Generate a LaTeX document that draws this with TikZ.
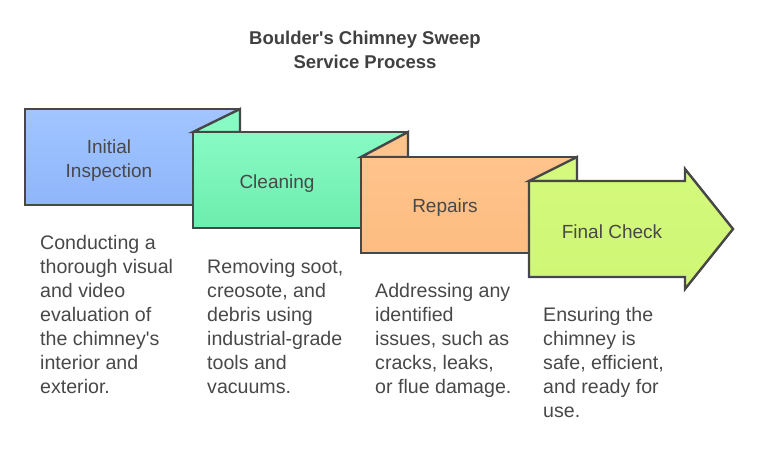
\documentclass[tikz,border=0pt]{standalone}
\usepackage{fontspec}
\setmainfont{Liberation Sans}[Ligatures=TeXOff]
\definecolor{ink}{HTML}{474747}
\definecolor{txt}{HTML}{484848}
\definecolor{blueT}{HTML}{A2C5FF}
\definecolor{blueB}{HTML}{8FB6FB}
\definecolor{greenT}{HTML}{88FAC4}
\definecolor{greenB}{HTML}{6DEDAE}
\definecolor{orangeT}{HTML}{FFC38B}
\definecolor{orangeB}{HTML}{FDBD82}
\definecolor{limeT}{HTML}{D4F97C}
\definecolor{limeB}{HTML}{CFF675}
\tikzset{
  shp/.style={draw=ink, line width=2.4pt, line join=miter},
  lbl/.style={font=\fontsize{19}{24}\selectfont, text=txt, align=center, inner sep=0},
  desc/.style={font=\fontsize{19.6}{24}\selectfont, text=txt, align=left, anchor=base west, inner sep=0},
  ttl/.style={font=\bfseries\fontsize{18.5}{24}\selectfont, text=ink!90!black, align=center, inner sep=0},
}
\begin{document}
\begin{tikzpicture}[x=1pt,y=-1pt]
\useasboundingbox (0,0) rectangle (759,470);
% title
\node[ttl] (title) at (365,50) {Boulder's Chimney Sweep\\Service Process};
% box 1
\shade[shp, top color=blueT, bottom color=blueB] (25,109) rectangle (240,205);
% fold 2 and box 2
\shade[shp, top color=greenT, bottom color=greenT] (193,132) -- (240,109) -- (240,132) -- cycle;
\shade[shp, top color=greenT, bottom color=greenB] (193,132) rectangle (408,228);
% fold 3 and box 3
\shade[shp, top color=orangeT, bottom color=orangeT] (361,157) -- (408,132) -- (408,157) -- cycle;
\shade[shp, top color=orangeT, bottom color=orangeB] (361,157) rectangle (577,253);
% fold 4 and arrow
\shade[shp, top color=limeT, bottom color=limeT] (529,181) -- (577,157) -- (577,181) -- cycle;
\shade[shp, top color=limeT, bottom color=limeB] (529,181) -- (685,181) -- (685,169) -- (733,229) -- (685,289) -- (685,277) -- (529,277) -- cycle;
% labels
\node[lbl] (l1) at (109,161) {Initial\\Inspection};
\node[lbl] (l2) at (277,184) {Cleaning};
\node[lbl] (l3) at (445,208) {Repairs};
\node[lbl] (l4) at (612,232) {Final Check};
% descriptions (anchor = baseline of last line)
\node[desc] (d1) at (40,393) {Conducting a\\thorough visual\\and video\\evaluation of\\the chimney's\\interior and\\exterior.};
\node[desc] (d2) at (207,393) {Removing soot,\\creosote, and\\debris using\\industrial-grade\\tools and\\vacuums.};
\node[desc] (d3) at (375,393) {Addressing any\\identified\\issues, such as\\cracks, leaks,\\or flue damage.};
\node[desc] (d4) at (543,417) {Ensuring the\\chimney is\\safe, efficient,\\and ready for\\use.};
\end{tikzpicture}
\end{document}
